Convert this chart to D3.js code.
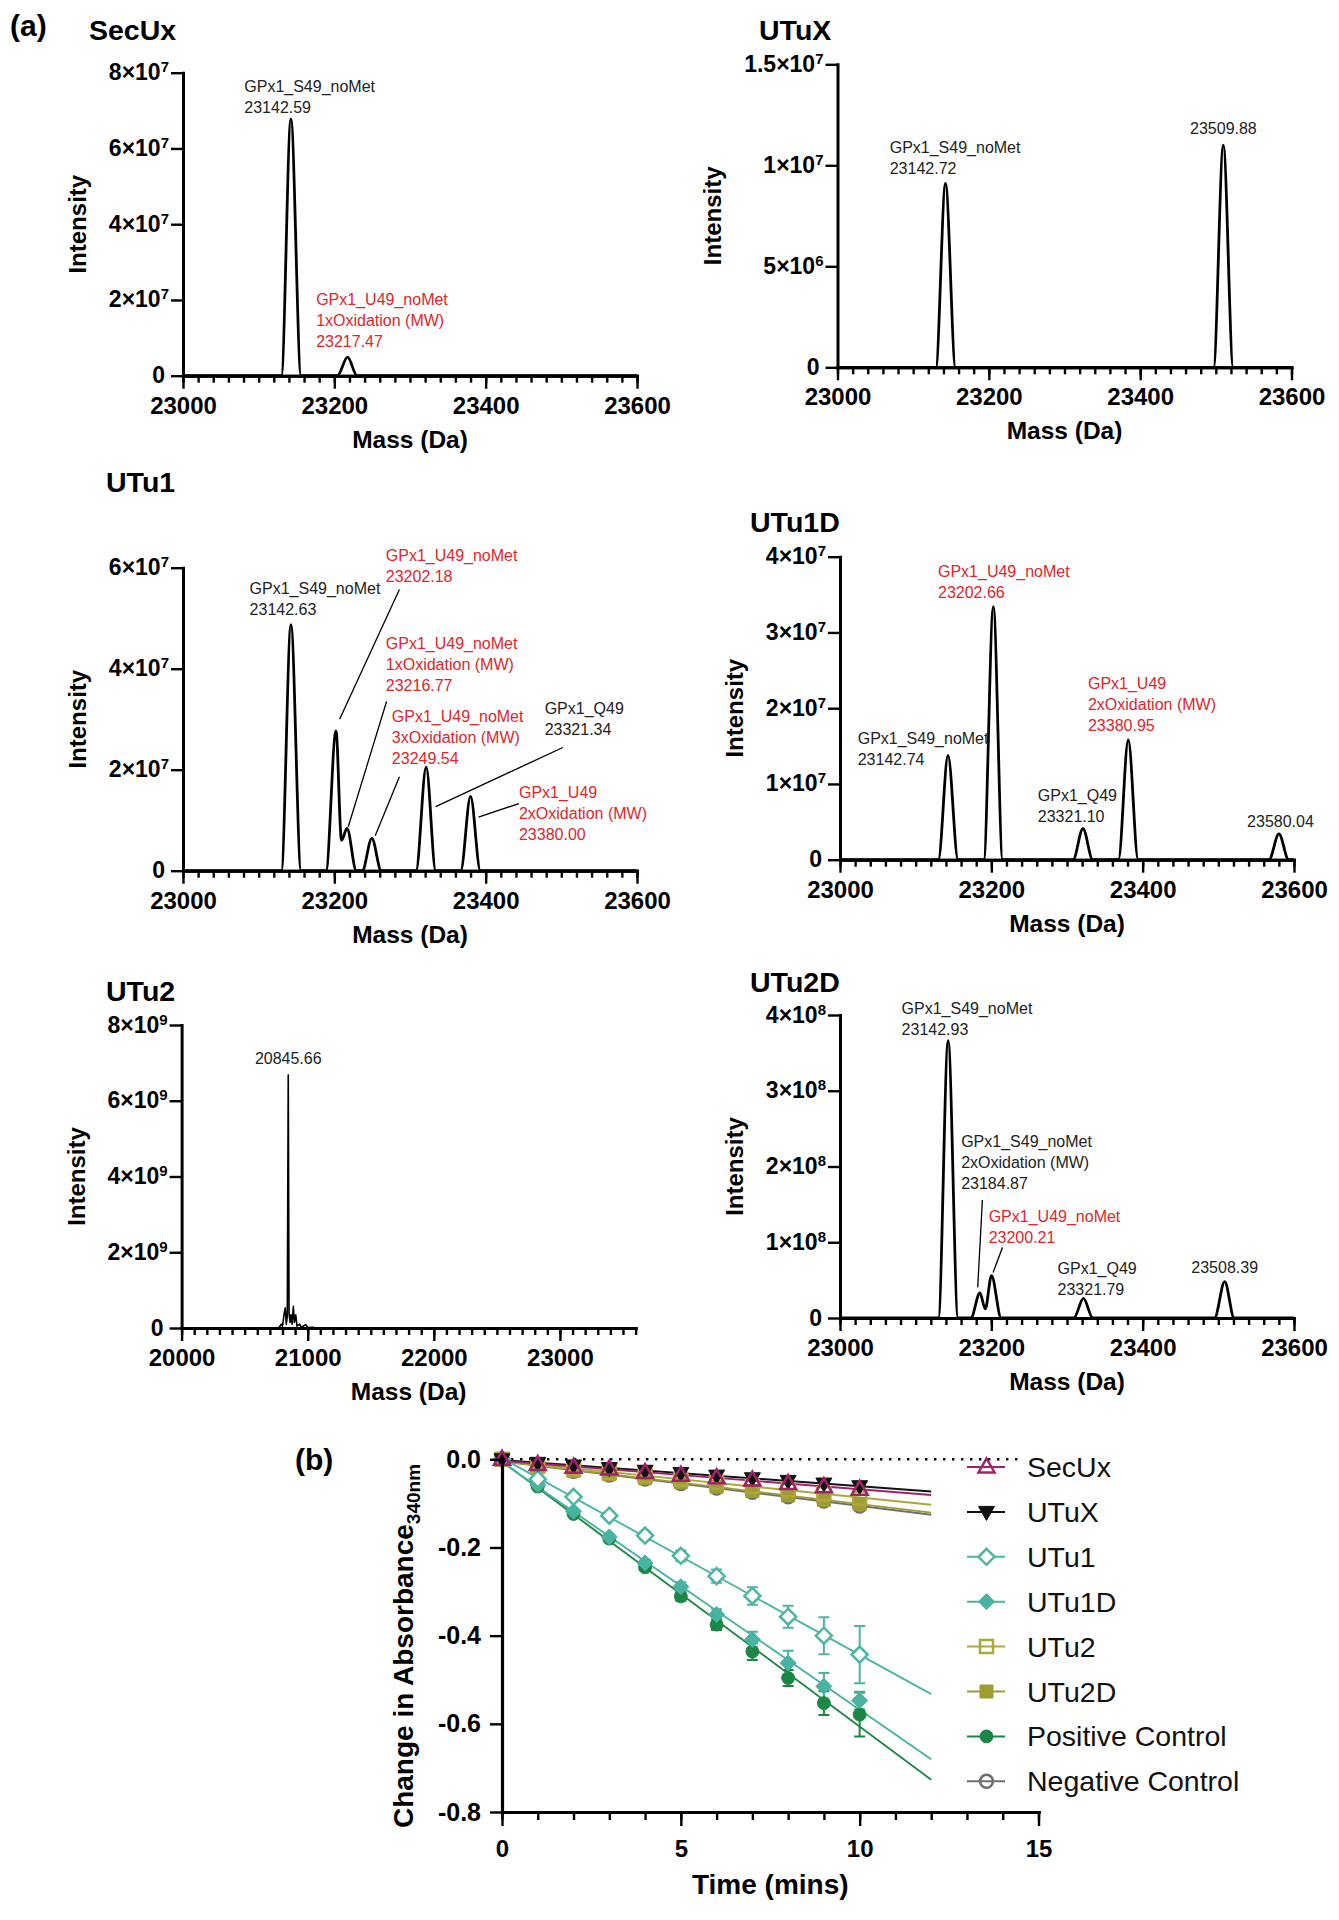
<!DOCTYPE html>
<html>
<head>
<meta charset="utf-8">
<script src="https://cdn.jsdelivr.net/npm/d3@7"></script>
<style>
  body { margin: 0; background: #fff }
  svg { display: block; font-family: "Liberation Sans", Arial, sans-serif }
</style>
</head>
<body>
<svg id="fig" width="1339" height="1920"></svg>
<script>
// ---------- (a) deconvoluted spectra, [mass (Da), intensity]
const secuxTrace = [[23000,0],[23130,0],[23142.59,6.78e7],[23156,0],[23204,0],[23217.47,0.49e7],[23230,0],[23600,0]]
const utuxTrace  = [[23000,0],[23130,0],[23142.72,0.91e7],[23156,0],[23497,0],[23509.88,1.10e7],[23523,0],[23600,0]]
const utu1Trace  = [[23000,0],[23130,0],[23142.63,4.87e7],[23156,0],[23189,0],[23202.18,2.77e7],[23209.5,0.6e7],
                    [23216.77,0.84e7],[23229,0],[23237,0],[23249.54,0.64e7],[23262,0],[23308,0],[23321.34,2.05e7],
                    [23334,0],[23367,0],[23380,1.47e7],[23393,0],[23600,0]]
const utu1dTrace = [[23000,0],[23130,0],[23142.74,1.376e7],[23156,0],[23190,0],[23202.66,3.34e7],[23215,0],[23308,0],
                    [23321.1,0.41e7],[23334,0],[23368,0],[23380.95,1.58e7],[23394,0],[23567,0],[23580.04,0.34e7],[23593,0],[23600,0]]
const utu2Trace  = [[20000,0],[20770,0],[20790,0.1e9],[20800,0.05e9],[20812,0.35e9],[20822,0.53e9],[20830,0.1e9],
                    [20838,0.3e9],[20845.66,6.68e9],[20852,0.4e9],[20860,0.15e9],[20868,0.35e9],[20876,0.1e9],[20886,0.57e9],
                    [20894,0.15e9],[20905,0.35e9],[20915,0.05e9],[20935,0.1e9],[20950,0.02e9],[20985,0.09e9],[21000,0.01e9],
                    [21040,0.02e9],[21060,0],[23600,0]]
const utu2dTrace = [[23000,0],[23130,0],[23142.93,3.66e8],[23156,0],[23173,0],[23184.87,0.33e8],[23192,0.12e8],
                    [23200.21,0.56e8],[23213,0],[23309,0],[23321.79,0.26e8],[23334,0],[23495,0],[23508.39,0.48e8],[23521,0],[23600,0]]

// y tick values per spectrum
const secuxTicks = [0, 2e7, 4e7, 6e7, 8e7]
const utuxTicks  = [0, 5e6, 1e7, 1.5e7]
const utu1Ticks  = [0, 2e7, 4e7, 6e7]
const utu1dTicks = [0, 1e7, 2e7, 3e7, 4e7]
const utu2Ticks  = [0, 2e9, 4e9, 6e9, 8e9]
const utu2dTicks = [0, 1e8, 2e8, 3e8, 4e8]
const massTicks  = [23000, 23200, 23400, 23600]
const massTicksWide = [20000, 21000, 22000, 23000]

// peak annotations: anchor of the first text line in data units
const RED = "#e0262b"
const secuxNotes = [
  { m: 23081, i: 7.49e7, lines: ["GPx1_S49_noMet", "23142.59"] },
  { m: 23176, i: 1.86e7, red: true, lines: ["GPx1_U49_noMet", "1xOxidation (MW)", "23217.47"] }
]
const utuxNotes = [
  { m: 23069, i: 1.06e7, lines: ["GPx1_S49_noMet", "23142.72"] },
  { m: 23510, i: 1.157e7, mid: true, lines: ["23509.88"] }
]
const utu1Notes = [
  { m: 23088, i: 5.48e7, lines: ["GPx1_S49_noMet", "23142.63"] },
  { m: 23268, i: 6.13e7, red: true, lines: ["GPx1_U49_noMet", "23202.18"] },
  { m: 23268, i: 4.39e7, red: true, lines: ["GPx1_U49_noMet", "1xOxidation (MW)", "23216.77"] },
  { m: 23276, i: 2.95e7, red: true, lines: ["GPx1_U49_noMet", "3xOxidation (MW)", "23249.54"] },
  { m: 23478, i: 3.11e7, lines: ["GPx1_Q49", "23321.34"] },
  { m: 23444, i: 1.436e7, red: true, lines: ["GPx1_U49", "2xOxidation (MW)", "23380.00"] }
]
const utu1Leaders = [
  [[23286, 5.57e7], [23207, 3.0e7]],
  [[23269, 3.35e7], [23218.4, 0.87e7]],
  [[23286, 1.86e7], [23254, 0.69e7]],
  [[23502, 2.44e7], [23334, 1.27e7]],
  [[23444, 1.33e7], [23390.6, 1.06e7]]
]
const utu1dNotes = [
  { m: 23129.5, i: 3.73e7, red: true, lines: ["GPx1_U49_noMet", "23202.66"] },
  { m: 23023.4, i: 1.524e7, lines: ["GPx1_S49_noMet", "23142.74"] },
  { m: 23261.4, i: 0.774e7, lines: ["GPx1_Q49", "23321.10"] },
  { m: 23327.7, i: 2.25e7, red: true, lines: ["GPx1_U49", "2xOxidation (MW)", "23380.95"] },
  { m: 23538, i: 0.43e7, lines: ["23580.04"] }
]
const utu2Notes = [
  { m: 20845.66, i: 6.98e9, mid: true, lines: ["20845.66"] }
]
const utu2dNotes = [
  { m: 23081.4, i: 4.016e8, lines: ["GPx1_S49_noMet", "23142.93"] },
  { m: 23160.1, i: 2.26e8, lines: ["GPx1_S49_noMet", "2xOxidation (MW)", "23184.87"] },
  { m: 23196.5, i: 1.266e8, red: true, lines: ["GPx1_U49_noMet", "23200.21"] },
  { m: 23287.5, i: 0.58e8, lines: ["GPx1_Q49", "23321.79"] },
  { m: 23508.4, i: 0.595e8, mid: true, lines: ["23508.39"] }
]
const utu2dLeaders = [
  [[23188.2, 1.557e8], [23182, 0.404e8]],
  [[23214.7, 0.93e8], [23202.3, 0.60e8]]
]

// ---------- (b) change in A340 over time (mean, error)
const times = [0, 1, 2, 3, 4, 5, 6, 7, 8, 9, 10]
const secuxA340 = [0, -0.012, -0.018, -0.022, -0.030, -0.036, -0.042, -0.047, -0.055, -0.062, -0.068]
const utuxA340  = [0, -0.008, -0.014, -0.020, -0.026, -0.031, -0.037, -0.043, -0.049, -0.055, -0.061]
const utu1A340  = [0, -0.045, -0.085, -0.128, -0.173, -0.219, -0.265, -0.310, -0.357, -0.400, -0.443]
const utu1dA340 = [0, -0.058, -0.118, -0.176, -0.235, -0.289, -0.352, -0.409, -0.462, -0.515, -0.547]
const utu2A340  = [0, -0.015, -0.022, -0.030, -0.037, -0.045, -0.052, -0.061, -0.069, -0.078, -0.088]
const utu2dA340 = [0, -0.018, -0.026, -0.034, -0.043, -0.052, -0.062, -0.072, -0.082, -0.092, -0.102]
const posA340   = [0, -0.062, -0.124, -0.180, -0.245, -0.311, -0.375, -0.436, -0.496, -0.553, -0.579]
const negA340   = [0, -0.018, -0.027, -0.036, -0.045, -0.055, -0.065, -0.075, -0.085, -0.095, -0.106]
const utu1Err   = [0, 0.005, 0.006, 0.008, 0.010, 0.012, 0.015, 0.020, 0.025, 0.042, 0.065]
const utu1dErr  = [0, 0.004, 0.005, 0.006, 0.008, 0.010, 0.012, 0.018, 0.028, 0.030, 0.020]
const posErr    = [0, 0.004, 0.005, 0.006, 0.008, 0.010, 0.012, 0.019, 0.018, 0.027, 0.050]
const seriesNames = ["SecUx", "UTuX", "UTu1", "UTu1D", "UTu2", "UTu2D", "Positive Control", "Negative Control"]
const absTicks  = [0, -0.2, -0.4, -0.6, -0.8]
const timeTicks = [0, 5, 10, 15]

const svg = d3.select("#fig")
const W = 454, H = 303

// "8×10⁷" style labels
function sci(v) {
  if (v === 0) return ["0", ""]
  const e = Math.floor(Math.log10(v) + 1e-9)
  return [String(+(v / 10 ** e).toFixed(2)) + "×10", String(e)]
}

function styleAxis(g, lw) {
  g.select(".domain").attr("stroke-width", lw).attr("stroke-linecap", "square")
  g.selectAll(".tick line").attr("stroke-width", 2.4)
}

function spectrum(p) {
  const x = d3.scaleLinear().domain(p.xDomain).range([p.left, p.left + W])
  const y = d3.scaleLinear().domain([0, p.yMax]).range([p.top + H, p.top])
  const g = svg.append("g")
  const base = p.top + H

  g.append("path").datum(p.trace)
    .attr("d", d3.line().x(d => x(d[0])).y(d => y(d[1])).curve(p.curve || d3.curveMonotoneX))
    .attr("fill", "none").attr("stroke", "#000")
    .attr("stroke-width", p.lw || 2.8).attr("stroke-linejoin", "round")

  // minor ticks, then major ticks with labels
  const minor = d3.range(p.xDomain[0], p.xDomain[1] + 0.1, p.minorStep)
  const gm = g.append("g").attr("transform", `translate(0,${base})`)
    .call(d3.axisBottom(x).tickValues(minor).tickSize(7).tickSizeOuter(0).tickFormat(""))
  styleAxis(gm, 3)
  const gx = g.append("g").attr("transform", `translate(0,${base})`)
    .call(d3.axisBottom(x).tickValues(p.xTicks).tickSize(13).tickSizeOuter(0).tickPadding(8).tickFormat(d3.format("d")))
  styleAxis(gx, 3)
  gx.selectAll("text").attr("font-size", 24).attr("font-weight", "bold").attr("fill", "#000")

  const gy = g.append("g").attr("transform", `translate(${p.left},0)`)
    .call(d3.axisLeft(y).tickValues(p.yTicks).tickSize(12).tickSizeOuter(0).tickFormat(""))
  styleAxis(gy, 3)
  p.yTicks.forEach(v => {
    const [txt, ex] = sci(v)
    const t = g.append("text").attr("x", p.left - (ex ? 14 : 18)).attr("y", y(v) + 7.5)
      .attr("text-anchor", "end").attr("font-size", 23).attr("font-weight", "bold")
    t.append("tspan").text(txt)
    if (ex) t.append("tspan").attr("font-size", 15).attr("dy", -8).text(ex)
  })

  g.append("text").attr("x", p.titleX).attr("y", p.titleY)
    .attr("font-size", 28.5).attr("font-weight", "bold").text(p.title)
  g.append("text")
    .attr("transform", `translate(${p.left - p.ylabOff},${p.top + H / 2}) rotate(-90)`)
    .attr("text-anchor", "middle").attr("font-size", 24).attr("font-weight", "bold").text("Intensity")
  g.append("text").attr("x", p.left + W / 2).attr("y", base + 72)
    .attr("text-anchor", "middle").attr("font-size", 24.5).attr("font-weight", "bold").text("Mass (Da)")

  ;(p.leaders || []).forEach(l => {
    g.append("line")
      .attr("x1", x(l[0][0])).attr("y1", y(l[0][1]))
      .attr("x2", x(l[1][0])).attr("y2", y(l[1][1]))
      .attr("stroke", "#000").attr("stroke-width", 1.3)
  })
  p.notes.forEach(n => {
    const t = g.append("text").attr("x", x(n.m)).attr("y", y(n.i))
      .attr("font-size", 16).attr("fill", n.red ? RED : "#222")
      .attr("text-anchor", n.mid ? "middle" : "start")
    n.lines.forEach((s, k) => t.append("tspan").attr("x", x(n.m)).attr("dy", k ? 21 : 0).text(s))
  })
}

const narrow = [23000, 23600]
spectrum({ title: "SecUx", titleX: 89, titleY: 40, left: 183, top: 72.7, xDomain: narrow, xTicks: massTicks, minorStep: 20,
  yMax: 8e7, yTicks: secuxTicks, ylabOff: 97, trace: secuxTrace, notes: secuxNotes })
spectrum({ title: "UTuX", titleX: 759, titleY: 40, left: 837.5, top: 64.3, xDomain: narrow, xTicks: massTicks, minorStep: 20,
  yMax: 1.5e7, yTicks: utuxTicks, ylabOff: 117, trace: utuxTrace, notes: utuxNotes })
spectrum({ title: "UTu1", titleX: 106, titleY: 492, left: 183, top: 567.7, xDomain: narrow, xTicks: massTicks, minorStep: 20,
  yMax: 6e7, yTicks: utu1Ticks, ylabOff: 97, trace: utu1Trace, notes: utu1Notes, leaders: utu1Leaders })
spectrum({ title: "UTu1D", titleX: 750, titleY: 531.7, left: 840, top: 556.7, xDomain: narrow, xTicks: massTicks, minorStep: 20,
  yMax: 4e7, yTicks: utu1dTicks, ylabOff: 97, trace: utu1dTrace, notes: utu1dNotes })
spectrum({ title: "UTu2", titleX: 106, titleY: 1001, left: 181.6, top: 1025, xDomain: [20000, 23600], xTicks: massTicksWide, minorStep: 100,
  yMax: 8e9, yTicks: utu2Ticks, ylabOff: 97, trace: utu2Trace, notes: utu2Notes, curve: d3.curveLinear, lw: 1.6 })
spectrum({ title: "UTu2D", titleX: 750, titleY: 991.7, left: 840, top: 1015, xDomain: narrow, xTicks: massTicks, minorStep: 20,
  yMax: 4e8, yTicks: utu2dTicks, ylabOff: 97, trace: utu2dTrace, notes: utu2dNotes, leaders: utu2dLeaders })

svg.append("text").attr("x", 10).attr("y", 36).attr("font-size", 30).attr("font-weight", "bold").text("(a)")

// ---------- (b)
const bx = d3.scaleLinear().domain([0, 15]).range([502, 1038.5])
const by = d3.scaleLinear().domain([-0.8, 0]).range([1812, 1459.3])

const styles = [
  { color: "#a2216b", shape: "triUp",   open: true,  fill: "none" },
  { color: "#111111", shape: "triDown", open: false },
  { color: "#4cb6a3", shape: "diamond", open: true,  fill: "#fff" },
  { color: "#48b3a0", shape: "diamond", open: false },
  { color: "#aca83c", shape: "square",  open: true,  fill: "none" },
  { color: "#a09c34", shape: "square",  open: false },
  { color: "#1b8744", shape: "circle",  open: false },
  { color: "#6e6e6e", shape: "circle",  open: true,  fill: "none" }
]
const values = [secuxA340, utuxA340, utu1A340, utu1dA340, utu2A340, utu2dA340, posA340, negA340]
const errors = [null, null, utu1Err, utu1dErr, null, null, posErr, null]

function shapePath(shape) {
  switch (shape) {
    case "triUp":   return "M0,-8.5L8,5.5L-8,5.5Z"
    case "triDown": return "M0,8.5L8,-5.5L-8,-5.5Z"
    case "diamond": return "M0,-8L8,0L0,8L-8,0Z"
    case "square":  return "M-6.5,-6.5H6.5V6.5H-6.5Z"
    default:        return d3.symbol(d3.symbolCircle, 130)()
  }
}
function marker(g, s, cx, cy) {
  g.append("path").attr("d", shapePath(s.shape)).attr("transform", `translate(${cx},${cy})`)
    .attr("fill", s.open ? s.fill : s.color).attr("stroke", s.color).attr("stroke-width", s.open ? 2.5 : 1)
}
function fit(xs, ys) {
  const mx = d3.mean(xs), my = d3.mean(ys)
  const b = d3.sum(xs, (x, i) => (x - mx) * (ys[i] - my)) / d3.sum(xs, x => (x - mx) ** 2)
  return [my - b * mx, b]
}

const gb = svg.append("g")
// zero reference line
gb.append("line").attr("x1", bx(0)).attr("x2", bx(15)).attr("y1", by(0)).attr("y2", by(0))
  .attr("stroke", "#000").attr("stroke-width", 2.6).attr("stroke-dasharray", "2.4,6.6")

const order = d3.range(seriesNames.length).reverse()
order.forEach(k => {
  const [a, b] = fit(times, values[k])
  gb.append("line").attr("x1", bx(0)).attr("y1", by(a)).attr("x2", bx(12)).attr("y2", by(a + b * 12))
    .attr("stroke", styles[k].color).attr("stroke-width", 1.9)
})
order.forEach(k => {
  if (!errors[k]) return
  times.forEach((t, i) => {
    const e = errors[k][i]
    if (e < 0.007) return
    const cx = bx(t), y1 = by(values[k][i] - e), y2 = by(values[k][i] + e)
    gb.append("path").attr("d", `M${cx},${y1}V${y2}M${cx - 5.5},${y1}H${cx + 5.5}M${cx - 5.5},${y2}H${cx + 5.5}`)
      .attr("stroke", styles[k].color).attr("stroke-width", 2).attr("fill", "none")
  })
})
order.forEach(k => times.forEach((t, i) => marker(gb, styles[k], bx(t), by(values[k][i]))))

const gbx = gb.append("g").attr("transform", `translate(0,${by(-0.8)})`)
  .call(d3.axisBottom(bx).tickValues(d3.range(0, 16)).tickSize(8).tickSizeOuter(0).tickFormat(""))
styleAxis(gbx, 3.2)
const gbx2 = gb.append("g").attr("transform", `translate(0,${by(-0.8)})`)
  .call(d3.axisBottom(bx).tickValues(timeTicks).tickSize(14).tickSizeOuter(0).tickPadding(14).tickFormat(d3.format("d")))
styleAxis(gbx2, 3.2)
gbx2.selectAll("text").attr("font-size", 24).attr("font-weight", "bold").attr("fill", "#000")
const gby = gb.append("g").attr("transform", `translate(${bx(0)},0)`)
  .call(d3.axisLeft(by).tickValues(absTicks).tickSize(12).tickSizeOuter(0).tickPadding(9)
    .tickFormat(v => (v < 0 ? "-" : "") + Math.abs(v).toFixed(1)))
styleAxis(gby, 3.2)
gby.selectAll("text").attr("font-size", 25).attr("font-weight", "bold").attr("fill", "#000")

gb.append("text").attr("x", (bx(0) + bx(15)) / 2).attr("y", 1894)
  .attr("text-anchor", "middle").attr("font-size", 28).attr("font-weight", "bold").text("Time (mins)")
const yl = gb.append("text").attr("transform", `translate(413,1646) rotate(-90)`)
  .attr("text-anchor", "middle").attr("font-size", 28).attr("font-weight", "bold")
yl.append("tspan").text("Change in Absorbance")
yl.append("tspan").attr("font-size", 19).attr("dy", 7).text("340nm")
svg.append("text").attr("x", 295).attr("y", 1470).attr("font-size", 30).attr("font-weight", "bold").text("(b)")

// legend
const lg = svg.append("g")
lg.append("rect").attr("x", 1021).attr("y", 1440).attr("width", 318).attr("height", 370).attr("fill", "#fff")
seriesNames.forEach((name, k) => {
  const cy = 1467 + k * 44.9
  lg.append("line").attr("x1", 967).attr("x2", 1005).attr("y1", cy).attr("y2", cy)
    .attr("stroke", styles[k].color).attr("stroke-width", 2)
  marker(lg, styles[k], 986.5, cy)
  lg.append("text").attr("x", 1027).attr("y", cy + 10).attr("font-size", 28.5).attr("fill", "#111").text(name)
})
</script>
</body>
</html>
